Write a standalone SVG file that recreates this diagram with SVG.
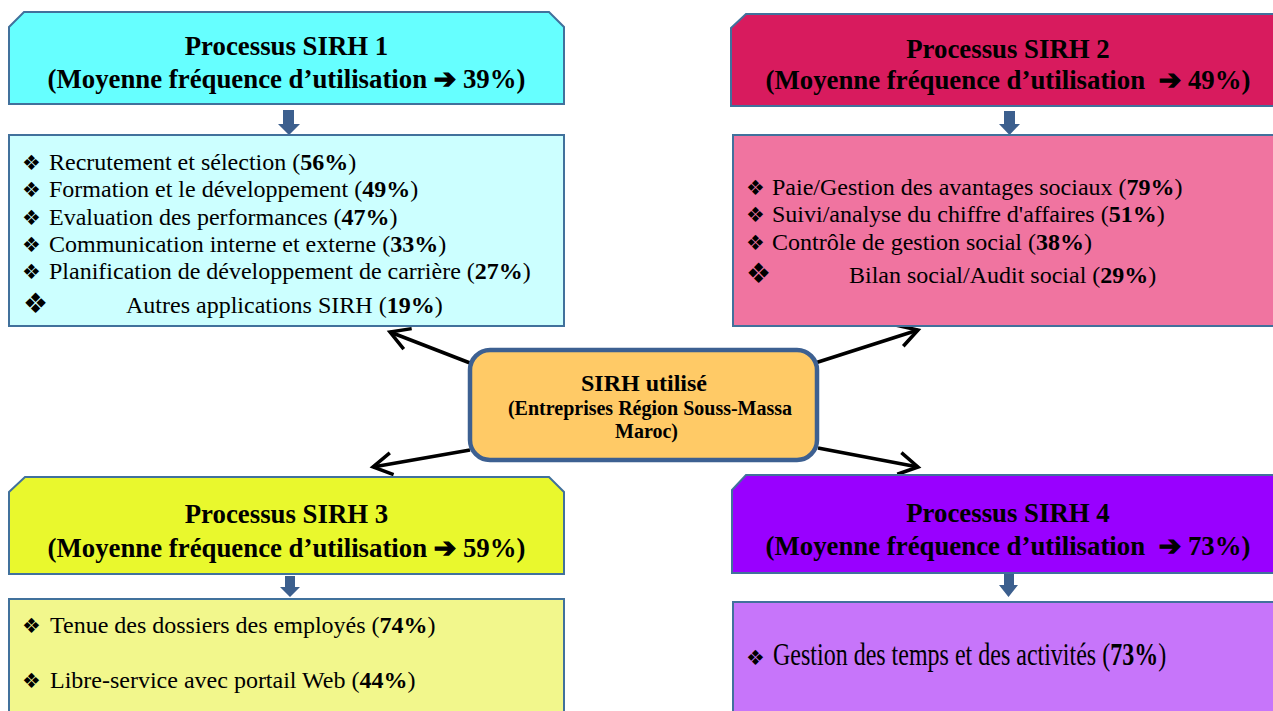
<svg xmlns="http://www.w3.org/2000/svg" width="1273" height="711" viewBox="0 0 1273 711">
<style>
.hd{font-family:"Liberation Serif","Times New Roman",serif;font-weight:bold;font-size:26.8px;fill:#000;text-anchor:middle}
.tx{font-family:"Liberation Serif","Times New Roman",serif;font-size:24px;fill:#000}
.b{font-weight:bold}
.bul{font-family:"DejaVu Sans",sans-serif;font-size:21px;fill:#000}
.bbul{font-family:"DejaVu Sans",sans-serif;font-size:28px;fill:#000}
.sym{font-family:"DejaVu Sans",sans-serif;font-weight:bold;stroke:#000;stroke-width:1.3}
.box{stroke:#41719C;stroke-width:2}
.down{fill:#3C5F8E}
.conn{stroke:#000;stroke-width:3.5;fill:none;marker-end:url(#open)}
.ct{font-family:"Liberation Serif","Times New Roman",serif;font-weight:bold;fill:#000;text-anchor:middle}
</style>
<defs>
<marker id="open" markerUnits="userSpaceOnUse" viewBox="-26 -16 30 32" markerWidth="30" markerHeight="32" refX="0" refY="0" orient="auto">
<path d="M-19,-11 L0,0 L-19,11" fill="none" stroke="#000" stroke-width="3.5" stroke-linejoin="miter"/>
</marker>
</defs>
<rect width="1273" height="711" fill="#fff"/>

<g id="connectors">
<line class="conn" x1="470" y1="363" x2="390" y2="332"/>
<line class="conn" x1="815" y1="363" x2="918" y2="330"/>
<line class="conn" x1="470" y1="450" x2="373" y2="467"/>
<line class="conn" x1="818" y1="448" x2="918" y2="467"/>
<polygon class="down" points="283,110 294,110 294,124 300,124 289,135 278,124 283,124"/>
<polygon class="down" points="1004,111 1015,111 1015,124 1020,124 1009.5,135 999,124 1004,124"/>
<polygon class="down" points="285,576 295,576 295,587 300,587 290,597 280,587 285,587"/>
<polygon class="down" points="1004,573 1014,573 1014,585 1018,585 1008.5,597 999,585 1004,585"/>
</g>

<g id="processus1">
<polygon class="box" fill="#66FFFF" points="9,27 24,12 549,12 564,27 564,104 9,104"/>
<text class="hd" x="286.5" y="55">Processus SIRH 1</text>
<text class="hd" x="286.5" y="88">(Moyenne fréquence d’utilisation <tspan class="sym">➔</tspan> 39%)</text>
</g>

<g id="liste1">
<rect class="box" fill="#CCFFFF" x="9" y="135" width="555" height="191"/>
<text class="bul" x="22" y="170">❖</text>
<text class="tx" x="49" y="170">Recrutement et sélection (<tspan class="b">56%</tspan>)</text>
<text class="bul" x="22" y="197">❖</text>
<text class="tx" x="49" y="197">Formation et le développement (<tspan class="b">49%</tspan>)</text>
<text class="bul" x="22" y="225">❖</text>
<text class="tx" x="49" y="225">Evaluation des performances (<tspan class="b">47%</tspan>)</text>
<text class="bul" x="22" y="252">❖</text>
<text class="tx" x="49" y="252">Communication interne et externe (<tspan class="b">33%</tspan>)</text>
<text class="bul" x="22" y="279">❖</text>
<text class="tx" x="49" y="279">Planification de développement de carrière (<tspan class="b">27%</tspan>)</text>
<text class="bbul" x="23" y="313">❖</text>
<text class="tx" x="126" y="313">Autres applications SIRH (<tspan class="b">19%</tspan>)</text>
</g>

<g id="processus2">
<polygon class="box" fill="#D81B5E" points="731,28 746,14 1290,14 1290,106 731,106"/>
<text class="hd" x="1008" y="58">Processus SIRH 2</text>
<text class="hd" x="1008" y="89">(Moyenne fréquence d’utilisation <tspan class="sym" dx="7">➔</tspan> 49%)</text>
</g>

<g id="liste2">
<rect class="box" fill="#F074A0" x="733" y="135" width="560" height="191"/>
<text class="bul" x="746" y="195">❖</text>
<text class="tx" x="772" y="195">Paie/Gestion des avantages sociaux (<tspan class="b">79%</tspan>)</text>
<text class="bul" x="746" y="222">❖</text>
<text class="tx" x="772" y="222">Suivi/analyse du chiffre d'affaires (<tspan class="b">51%</tspan>)</text>
<text class="bul" x="746" y="250">❖</text>
<text class="tx" x="772" y="250">Contrôle de gestion social (<tspan class="b">38%</tspan>)</text>
<text class="bbul" x="746" y="283">❖</text>
<text class="tx" x="849" y="283">Bilan social/Audit social (<tspan class="b">29%</tspan>)</text>
</g>

<g id="sirh-utilise">
<rect x="470" y="350" width="347" height="110" rx="20" ry="20" fill="#FFCA66" stroke="#3D6091" stroke-width="4.5"/>
<text class="ct" x="644" y="391" font-size="24">SIRH utilisé</text>
<text class="ct" x="650" y="415" font-size="20">(Entreprises Région Souss-Massa</text>
<text class="ct" x="646.5" y="438" font-size="20">Maroc)</text>
</g>

<g id="processus3">
<polygon class="box" fill="#E9F82D" points="9,492 25,477 549,477 564,492 564,574 9,574"/>
<text class="hd" x="286.5" y="523">Processus SIRH 3</text>
<text class="hd" x="286.5" y="557">(Moyenne fréquence d’utilisation <tspan class="sym">➔</tspan> 59%)</text>
</g>

<g id="liste3">
<rect class="box" fill="#F2F78C" x="9" y="599" width="555" height="130"/>
<text class="bul" x="22" y="633">❖</text>
<text class="tx" x="50" y="633">Tenue des dossiers des employés (<tspan class="b">74%</tspan>)</text>
<text class="bul" x="22" y="688">❖</text>
<text class="tx" x="50" y="688">Libre-service avec portail Web (<tspan class="b">44%</tspan>)</text>
</g>

<g id="processus4">
<polygon class="box" fill="#9900FF" points="732,490 746,475 1290,475 1290,573 732,573"/>
<text class="hd" x="1008" y="522">Processus SIRH 4</text>
<text class="hd" x="1008" y="555">(Moyenne fréquence d’utilisation <tspan class="sym" dx="7">➔</tspan> 73%)</text>
</g>

<g id="liste4">
<rect class="box" fill="#C775FA" x="733" y="602" width="560" height="130"/>
<text class="bul" x="746" y="665">❖</text>
<text class="tx" x="773" y="665" transform="matrix(1 0 0 1.3 0 -199.5)">Gestion des temps et des activités (<tspan class="b">73%</tspan>)</text>
</g>
</svg>
